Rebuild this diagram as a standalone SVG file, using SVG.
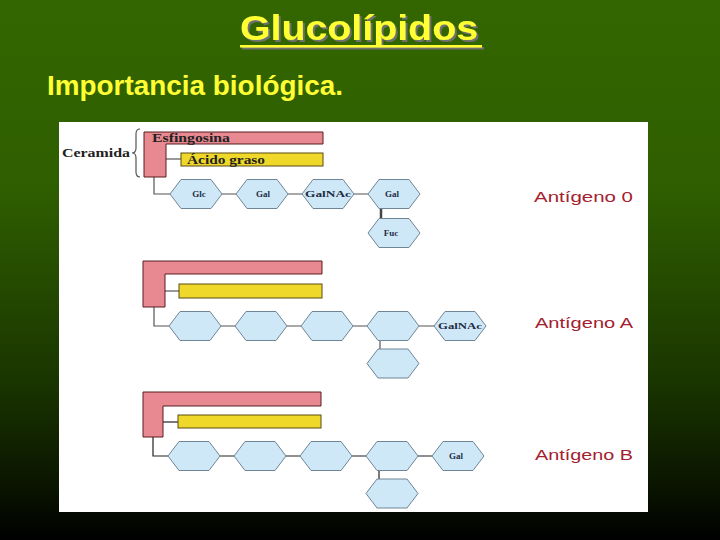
<svg xmlns="http://www.w3.org/2000/svg" width="720" height="540" viewBox="0 0 720 540">
<defs>
<linearGradient id="bg" x1="0" y1="0" x2="0" y2="1">
<stop offset="0" stop-color="#336600"/>
<stop offset="0.35" stop-color="#2f5e00"/>
<stop offset="0.7" stop-color="#1a3600"/>
<stop offset="0.9" stop-color="#0a1500"/>
<stop offset="1" stop-color="#000000"/>
</linearGradient>
<filter id="shadow" x="-5%" y="-20%" width="115%" height="150%">
<feDropShadow dx="2" dy="2" stdDeviation="0.4" flood-color="#707070" flood-opacity="1"/>
</filter>
<path id="hex" d="M-26,0 L-15,-14.5 L15,-14.5 L26,0 L15,14.5 L-15,14.5 Z"/>
</defs>
<style>
.title{font-family:"Liberation Sans",Arial,sans-serif;font-weight:bold;font-size:35px;fill:#ffff33}
.sub{font-family:"Liberation Sans",Arial,sans-serif;font-weight:bold;font-size:28px;fill:#ffff33}
.hex{fill:#cfe8f8;stroke:#6f8494;stroke-width:1}
.pink{fill:#e88890;stroke:#5a1c22;stroke-width:1}
.yel{fill:#f0d82a;stroke:#5a4a10;stroke-width:1}
.ln{stroke:#555;stroke-width:1.2;fill:none}
.lab{font-family:"Liberation Serif","Times New Roman",serif;font-weight:bold;font-size:12px;fill:#222}
.hl{font-family:"Liberation Serif","Times New Roman",serif;font-weight:bold;font-size:9px;fill:#1d2d44;text-anchor:middle}
.ant{font-family:"Liberation Sans",Arial,sans-serif;font-size:15px;fill:#a3212e}
</style>
<rect x="0" y="0" width="720" height="540" fill="url(#bg)"/>
<g id="title" filter="url(#shadow)">
<text class="title" x="240" y="40" textLength="238" lengthAdjust="spacingAndGlyphs">Glucolípidos</text>
<rect x="240" y="45" width="242" height="2.5" fill="#ffff33"/>
</g>
<text id="subtitle" class="sub" x="47" y="95" textLength="296" lengthAdjust="spacingAndGlyphs">Importancia biológica.</text>
<rect id="panel" x="59" y="122" width="589" height="390" fill="#ffffff"/>

<g id="connectors">
<path class="ln" d="M154,177 V194 H170 M222,194 H236 M288,194 H302 M354,194 H368"/>
<path d="M381,209 V218" stroke="#444" stroke-width="2.5"/>
<path class="ln" d="M166,159 H181"/>
<path class="ln" d="M154,307 V326 H169 M221,326 H235 M287,326 H301 M353,326 H367 M419,326 H434"/>
<path class="ln" d="M380,341 V349"/>
<path class="ln" d="M165,291 H179"/>
<path d="M153,437 V456 H168 M220,456 H234 M286,456 H300 M352,456 H366 M418,456 H432" stroke="#222" stroke-width="1.2" fill="none"/>
<path d="M379,471 V479" stroke="#222" stroke-width="1.2"/>
<path d="M163,422 H178" stroke="#222" stroke-width="1.2"/>
<path class="ln" d="M140,129 Q136,129 136,134 V148 Q136,153 132,153 Q136,153 136,158 V172 Q136,177 140,177"/>
</g>

<g id="ceramida-0">
<text class="lab" x="62" y="157" textLength="68" lengthAdjust="spacingAndGlyphs">Ceramida</text>
</g>
<g id="esfingosina-0">
<polygon class="pink" points="144,132 323,132 323,144 166,144 166,177 144,177"/>
<text class="lab" x="152" y="141.5" font-size="11" fill="#3a0a10" textLength="78" lengthAdjust="spacingAndGlyphs">Esfingosina</text>
</g>
<g id="acido-0">
<rect class="yel" x="181" y="153" width="142" height="13"/>
<text class="lab" x="187" y="163.5" textLength="78" lengthAdjust="spacingAndGlyphs">Ácido graso</text>
</g>
<g id="glc-0"><use href="#hex" class="hex" x="196" y="194"/><text class="hl" x="199" y="197">Glc</text></g>
<g id="gal-0"><use href="#hex" class="hex" x="262" y="194"/><text class="hl" x="263" y="197">Gal</text></g>
<g id="galnac-0"><use href="#hex" class="hex" x="328" y="194"/><text class="hl" x="328" y="197" textLength="46" lengthAdjust="spacingAndGlyphs">GalNAc</text></g>
<g id="gal2-0"><use href="#hex" class="hex" x="394" y="194"/><text class="hl" x="392" y="197">Gal</text></g>
<g id="fuc-0"><use href="#hex" class="hex" x="394" y="233"/><text class="hl" x="391" y="236">Fuc</text></g>
<text id="ant-0" class="ant" x="534" y="202" textLength="99" lengthAdjust="spacingAndGlyphs">Antígeno 0</text>

<g id="esfingosina-a"><polygon class="pink" points="143,261 322,261 322,274 165,274 165,307 143,307"/></g>
<g id="acido-a"><rect class="yel" x="179" y="284" width="143" height="14"/></g>
<g id="h1-a"><use href="#hex" class="hex" x="195" y="326"/></g>
<g id="h2-a"><use href="#hex" class="hex" x="261" y="326"/></g>
<g id="h3-a"><use href="#hex" class="hex" x="327" y="326"/></g>
<g id="h4-a"><use href="#hex" class="hex" x="393" y="326"/></g>
<g id="h5-a"><use href="#hex" class="hex" x="460" y="326"/><text class="hl" x="460" y="329" textLength="44" lengthAdjust="spacingAndGlyphs">GalNAc</text></g>
<g id="h6-a"><use href="#hex" class="hex" x="393" y="363.5"/></g>
<text id="ant-a" class="ant" x="535" y="328" textLength="98" lengthAdjust="spacingAndGlyphs">Antígeno A</text>

<g id="esfingosina-b"><polygon class="pink" points="143,392 321,392 321,406 163,406 163,437 143,437"/></g>
<g id="acido-b"><rect class="yel" x="178" y="415" width="143" height="13"/></g>
<g id="h1-b"><use href="#hex" class="hex" x="194" y="456"/></g>
<g id="h2-b"><use href="#hex" class="hex" x="260" y="456"/></g>
<g id="h3-b"><use href="#hex" class="hex" x="326" y="456"/></g>
<g id="h4-b"><use href="#hex" class="hex" x="392" y="456"/></g>
<g id="h5-b"><use href="#hex" class="hex" x="458" y="456"/><text class="hl" x="456" y="459">Gal</text></g>
<g id="h6-b"><use href="#hex" class="hex" x="392" y="493.5"/></g>
<text id="ant-b" class="ant" x="535" y="460" textLength="98" lengthAdjust="spacingAndGlyphs">Antígeno B</text>
</svg>
